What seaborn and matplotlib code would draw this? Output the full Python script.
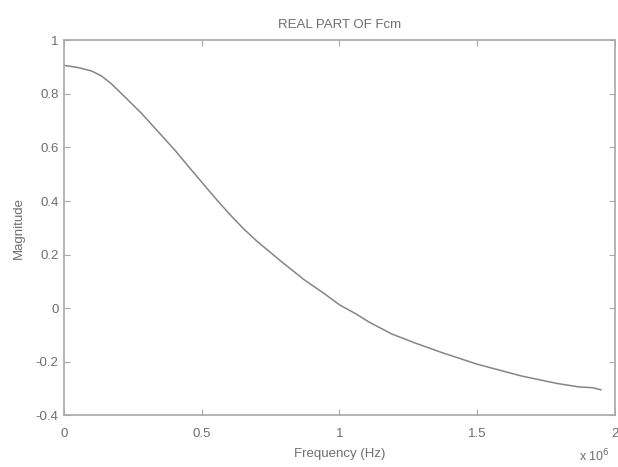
import matplotlib
matplotlib.use("Agg")
import matplotlib.pyplot as plt
import seaborn as sns
import pandas as pd

# frequency in units of 1e6 Hz, real part of Fcm
freq = [0.0, 0.05, 0.10, 0.135, 0.17, 0.22, 0.28, 0.34, 0.40, 0.46, 0.52,
        0.56, 0.60, 0.65, 0.70, 0.79, 0.87, 0.95, 1.00, 1.06, 1.11, 1.19,
        1.27, 1.37, 1.50, 1.66, 1.79, 1.87, 1.92, 1.95]
real_fcm = [0.907, 0.899, 0.886, 0.868, 0.840, 0.790, 0.729, 0.661, 0.593,
            0.519, 0.446, 0.398, 0.352, 0.298, 0.250, 0.173, 0.107, 0.050,
            0.012, -0.022, -0.054, -0.097, -0.129, -0.166, -0.210, -0.254,
            -0.282, -0.295, -0.298, -0.306]
xticks = [0, 0.5, 1, 1.5, 2]
yticks = [-0.4, -0.2, 0, 0.2, 0.4, 0.6, 0.8, 1]

df = pd.DataFrame({"freq": freq, "real": real_fcm})

sns.set_theme(style="white")
plt.rcParams['font.family'] = ['Liberation Sans', 'DejaVu Sans']
grey_txt = "#6e6e6e"
grey_ax = "#a8a8a8"

fig = plt.figure(figsize=(6.18, 4.67), dpi=100)
ax = fig.add_axes([0.1036, 0.1113, 0.8914, 0.802])

sns.lineplot(data=df, x="freq", y="real", ax=ax, color="#858585", linewidth=1.1)

ax.set_xlim(0, 2)
ax.set_ylim(-0.4, 1)
ax.set_xticks(xticks)
ax.set_xticklabels(["0", "0.5", "1", "1.5", "2"])
ax.set_yticks(yticks)
ax.set_yticklabels(["-0.4", "-0.2", "0", "0.2", "0.4", "0.6", "0.8", "1"])

for s in ax.spines.values():
    s.set_color(grey_ax)
    s.set_linewidth(1.2)
ax.tick_params(direction="in", length=4, width=0.8, color=grey_ax,
               labelcolor=grey_txt, labelsize=9.5, top=True, right=True,
               bottom=True, left=True, pad=4)
ax.tick_params(axis="x", pad=9)

ax.set_title("REAL PART OF Fcm", fontsize=9.5, color=grey_txt, pad=9)
ax.set_xlabel("Frequency (Hz)", fontsize=9.5, color=grey_txt, labelpad=6)
ax.set_ylabel("Magnitude", fontsize=9.5, color=grey_txt, labelpad=8)

fig.text(0.962, 0.006, r"x 10$^6$", fontsize=9, color=grey_txt,
         ha="center", va="bottom")

fig.savefig("out.png", dpi=100, facecolor="white")
